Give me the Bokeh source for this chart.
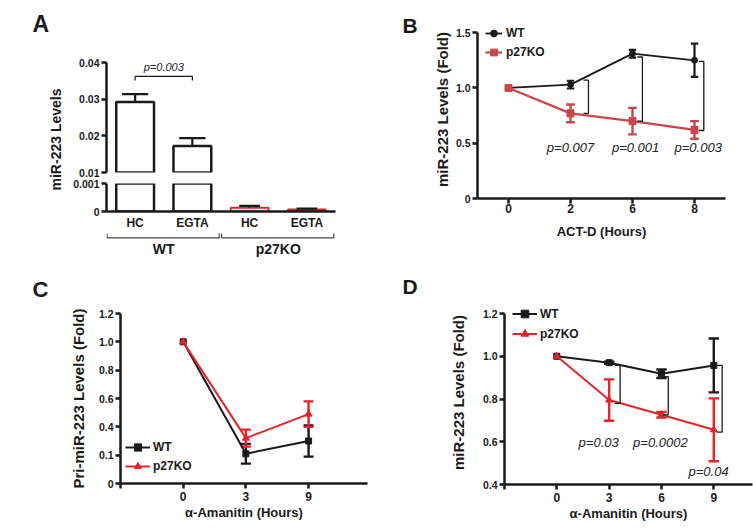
import numpy as np
from bokeh.plotting import figure
from bokeh.layouts import column, row
from bokeh.models import Range1d, FixedTicker, Legend, LegendItem
from bokeh.embed import file_html
from bokeh.resources import INLINE
from bokeh.core.properties import value

# ---------------- data ----------------
# Panel A
a_categories = ["HC", "EGTA", "HC", "EGTA"]
a_groups = ["WT", "WT", "p27KO", "p27KO"]
a_levels = [0.0292, 0.0172, 0.00013, 0.00007]
a_errors = [0.0022, 0.0022, 0.00007, 0.00003]
a_p_text = "p=0.003"
a_upper_ticks = [0.01, 0.02, 0.03, 0.04]
a_upper_tick_labels = ["0.01", "0.02", "0.03", "0.04"]
a_lower_ticks = [0, 0.001]
a_lower_tick_labels = ["0", "0.001"]

# Panel B
b_hours = ["0", "2", "6", "8"]
b_wt = [1.0, 1.03, 1.31, 1.25]
b_wt_err = [0.0, 0.035, 0.035, 0.15]
b_ko = [1.0, 0.77, 0.70, 0.62]
b_ko_err = [0.0, 0.08, 0.12, 0.08]
b_p_values = ["p=0.007", "p=0.001", "p=0.003"]
b_bracket_top = [1.07, 1.28, 1.24]
b_bracket_bottom = [0.77, 0.70, 0.615]
b_y_ticks = [0, 0.5, 1.0, 1.5]
b_y_tick_labels = ["0", "0.5", "1.0", "1.5"]

# Panel C
c_hours = ["0", "3", "9"]
c_wt = [1.0, 0.21, 0.30]
c_wt_err = [0.0, 0.07, 0.11]
c_ko = [1.0, 0.32, 0.49]
c_ko_err = [0.0, 0.06, 0.09]
c_y_ticks = [0, 0.2, 0.4, 0.6, 0.8, 1.0, 1.2]
c_y_tick_labels = ["0", "0.1", "0.4", "0.6", "0.8", "1.0", "1.2"]

# Panel D
d_hours = ["0", "3", "6", "9"]
d_wt = [1.0, 0.97, 0.918, 0.957]
d_wt_err = [0.0, 0.005, 0.02, 0.126]
d_ko = [1.0, 0.795, 0.726, 0.656]
d_ko_err = [0.0, 0.097, 0.013, 0.147]
d_p_values = ["p=0.03", "p=0.0002", "p=0.04"]
d_bracket_top = [0.957, 0.905, 0.957]
d_bracket_bottom = [0.78, 0.726, 0.645]
d_y_ticks = [0.4, 0.6, 0.8, 1.0, 1.2]
d_y_tick_labels = ["0.4", "0.6", "0.8", "1.0", "1.2"]

# ---------------- style ----------------
FONT = "Liberation Sans"
INK = "#1a1a1a"
RED_B = "#c9464b"
RED = "#e2252c"
ROW_H = 265


def make_fig(width, height, x_range, y_range, mbl, mbr, mbt, mbb, xloc="below", yloc="left"):
    p = figure(width=width, height=height, x_range=x_range, y_range=y_range,
               output_backend="svg", toolbar_location=None,
               x_axis_location=xloc, y_axis_location=yloc,
               min_border_left=mbl, min_border_right=mbr,
               min_border_top=mbt, min_border_bottom=mbb)
    p.outline_line_color = None
    p.grid.visible = False
    p.background_fill_color = "white"
    p.border_fill_color = "white"
    return p


def side_fig(width):
    # a plain text strip; its data space is pixels measured from its top-left corner (y negated)
    return make_fig(width, ROW_H, Range1d(0, width), Range1d(-ROW_H, 0), 0, 0, 0, 0, xloc=None, yloc=None)


def side_text(p, x, y_from_top, text, size, angle=0.0, align="left", baseline="middle"):
    p.text(x=[x], y=[-y_from_top], text=[text], text_font=value(FONT), text_font_style="bold",
           text_font_size=size, text_color=INK, angle=angle, text_align=align,
           text_baseline=baseline)


def style_axis(ax, tick_size="10.5px", label_size="13px", tick_out=5, label_standoff=2, axis_standoff=3):
    ax.axis_line_width = 2.5
    ax.axis_line_color = INK
    ax.major_tick_line_width = 2.5
    ax.major_tick_line_color = INK
    ax.major_tick_out = tick_out
    ax.major_tick_in = 0
    ax.minor_tick_line_color = None
    ax.major_label_text_font = FONT
    ax.major_label_text_font_style = "bold"
    ax.major_label_text_font_size = tick_size
    ax.major_label_text_color = INK
    ax.major_label_standoff = label_standoff
    ax.axis_label_text_font = FONT
    ax.axis_label_text_font_style = "bold"
    ax.axis_label_text_font_size = label_size
    ax.axis_label_text_color = INK
    ax.axis_label_standoff = axis_standoff


def set_ticks(ax, ticks, labels):
    ax.ticker = FixedTicker(ticks=list(ticks))
    ax.major_label_overrides = {t: l for t, l in zip(ticks, labels)}


def error_bars(p, xs, ys, errs, color, cap, width):
    x = np.asarray(xs, float)
    y = np.asarray(ys, float)
    e = np.asarray(errs, float)
    m = e > 0
    x, y, e = x[m], y[m], e[m]
    p.segment(x, y - e, x, y + e, line_color=color, line_width=width)
    p.segment(x - cap, y + e, x + cap, y + e, line_color=color, line_width=width)
    p.segment(x - cap, y - e, x + cap, y - e, line_color=color, line_width=width)


def brackets(p, xs, tops, bottoms, stub):
    mx = [[x - stub, x, x, x - stub] for x in xs]
    my = [[t, t, b, b] for t, b in zip(tops, bottoms)]
    p.multi_line(mx, my, line_color=INK, line_width=1.3)


def p_texts(p, xs, ys, texts, size="13px"):
    p.text(x=list(xs), y=list(ys), text=list(texts), text_font=value(FONT),
           text_font_style="italic", text_font_size=size, text_color="#222222",
           text_align="center", text_baseline="middle")


def make_legend(p, items, loc, gw, gh, standoff):
    lg = Legend(items=items, location=loc, orientation="vertical")
    lg.glyph_width = gw
    lg.glyph_height = gh
    lg.label_height = gh
    lg.spacing = 1
    lg.padding = 0
    lg.margin = 0
    lg.label_standoff = standoff
    lg.background_fill_alpha = 0
    lg.border_line_color = None
    lg.label_text_font = FONT
    lg.label_text_font_style = "bold"
    lg.label_text_font_size = "12px"
    lg.label_text_color = INK
    p.add_layout(lg)


# ---------------- Panel A ----------------
a_pos = np.arange(len(a_categories), dtype=float)
xr_a = Range1d(-0.5, 3.5)
a_line_colors = [INK if g == "WT" else RED for g in a_groups]
a_line_widths = [2.5 if g == "WT" else 2.0 for g in a_groups]
a_caps = [0.23 if g == "WT" else 0.18 for g in a_groups]


def draw_a(p, lowest):
    keep = [i for i, v in enumerate(a_levels) if v + a_errors[i] > lowest]
    xs = a_pos[keep]
    lv = np.asarray(a_levels)[keep]
    tp = lv + np.asarray(a_errors)[keep]
    cp = np.asarray(a_caps)[keep]
    p.vbar(x=xs, top=lv, bottom=0, width=0.66, fill_color="white",
           line_color=[a_line_colors[i] for i in keep],
           line_width=[a_line_widths[i] for i in keep])
    p.segment(xs, lv, xs, tp, line_color=INK, line_width=2.2)
    p.segment(xs - cp, tp, xs + cp, tp, line_color=INK, line_width=2.2)


A_W = 312
a_top = make_fig(A_W, 177, xr_a, Range1d(0.01, 0.04273), 38, 45, 52, 5, xloc=None)
style_axis(a_top.yaxis[0])
set_ticks(a_top.yaxis[0], a_upper_ticks, a_upper_tick_labels)
a_top.yaxis[0].bounds = (a_upper_ticks[0], a_upper_ticks[-1])
draw_a(a_top, a_upper_ticks[0])
a_top.line(x=[a_pos[0], a_pos[0], a_pos[1], a_pos[1]], y=[0.0351, 0.0362, 0.0362, 0.0351],
           line_color=INK, line_width=1.2)
p_texts(a_top, [(a_pos[0] + a_pos[1]) / 2], [0.0387], [a_p_text], size="11px")

a_low = make_fig(A_W, 55, xr_a, Range1d(0, 0.001), 38, 45, 6, 19)
style_axis(a_low.yaxis[0])
set_ticks(a_low.yaxis[0], a_lower_ticks, a_lower_tick_labels)
style_axis(a_low.xaxis[0], tick_size="12px", tick_out=0, label_standoff=4)
a_low.xaxis[0].ticker = FixedTicker(ticks=list(a_pos))
a_low.xaxis[0].major_label_overrides = {float(x): c for x, c in zip(a_pos, a_categories)}
draw_a(a_low, 0)

a_br = make_fig(A_W, 33, xr_a, Range1d(0, 1), 38, 45, 0, 0, xloc=None, yloc=None)
for g in list(dict.fromkeys(a_groups)):
    gp = [x for x, gg in zip(a_pos, a_groups) if gg == g]
    x0, x1 = min(gp) - 0.49, max(gp) + 0.47
    a_br.line(x=[x0, x0, x1, x1], y=[0.97, 0.84, 0.84, 0.97], line_color="#444444", line_width=1.2)
    a_br.text(x=[(min(gp) + max(gp)) / 2], y=[0.5], text=[g], text_font=value(FONT),
              text_font_style="bold", text_font_size="14px", text_color=INK,
              text_align="center", text_baseline="middle")

a_side = side_fig(68)
side_text(a_side, 32, 23.5, "A", "23px")
side_text(a_side, 55, 139, "miR-223 Levels", "14px", angle=np.pi / 2, align="center")

panel_a = column(a_top, a_low, a_br, spacing=0)

# ---------------- Panel B ----------------
b_pos = np.arange(len(b_hours), dtype=float)
fig_b = make_fig(323, ROW_H, Range1d(-0.5, 3.5), Range1d(0, 1.61), 47, 28, 20, 67)
style_axis(fig_b.yaxis[0], label_size="15px", axis_standoff=2)
set_ticks(fig_b.yaxis[0], b_y_ticks, b_y_tick_labels)
fig_b.yaxis[0].bounds = (b_y_ticks[0], b_y_ticks[-1])
fig_b.yaxis[0].axis_label = "miR-223 Levels (Fold)"
style_axis(fig_b.xaxis[0], tick_size="12px", label_standoff=0, axis_standoff=8)
set_ticks(fig_b.xaxis[0], list(b_pos), b_hours)
fig_b.xaxis[0].axis_label = "ACT-D (Hours)"

error_bars(fig_b, b_pos, b_wt, b_wt_err, INK, 0.06, 2.2)
error_bars(fig_b, b_pos, b_ko, b_ko_err, RED_B, 0.07, 2.4)
bl_wt = fig_b.line(b_pos, b_wt, line_color=INK, line_width=1.8)
bs_wt = fig_b.scatter(b_pos, b_wt, marker="circle", size=6, color=INK)
bl_ko = fig_b.line(b_pos, b_ko, line_color=RED_B, line_width=2.2)
bs_ko = fig_b.scatter(b_pos, b_ko, marker="square", size=7, color=RED_B)
b_bracket_dx = [0.29, 0.16, 0.15]
brackets(fig_b, b_pos[1:] + np.asarray(b_bracket_dx), b_bracket_top, b_bracket_bottom, 0.08)
p_texts(fig_b, b_pos[1:] + np.asarray([0.0, 0.05, 0.06]), [0.46] * 3, b_p_values)
make_legend(fig_b, [LegendItem(label="WT", renderers=[bl_wt, bs_wt]),
                    LegendItem(label="p27KO", renderers=[bl_ko, bs_ko])],
            (8, 137), 17, 18, 4)

b_side = side_fig(50)
side_text(b_side, 22, 24.5, "B", "21px")

# ---------------- Panel C ----------------
c_pos = np.arange(len(c_hours), dtype=float)
fig_c = make_fig(320, ROW_H, Range1d(-1, 2.94), Range1d(0, 1.2), 60, 13, 48, 47)
style_axis(fig_c.yaxis[0], label_size="15px", axis_standoff=9)
set_ticks(fig_c.yaxis[0], c_y_ticks, c_y_tick_labels)
fig_c.yaxis[0].axis_label = "Pri-miR-223 Levels (Fold)"
style_axis(fig_c.xaxis[0], tick_size="12px", label_standoff=3, axis_standoff=1)
set_ticks(fig_c.xaxis[0], [-1.0] + list(c_pos), [""] + c_hours)
fig_c.xaxis[0].axis_label = "α-Amanitin (Hours)"

error_bars(fig_c, c_pos, c_wt, c_wt_err, INK, 0.08, 2.4)
error_bars(fig_c, c_pos, c_ko, c_ko_err, RED, 0.08, 2.4)
cl_wt = fig_c.line(c_pos, c_wt, line_color=INK, line_width=2)
cs_wt = fig_c.scatter(c_pos, c_wt, marker="square", size=6, color=INK)
cl_ko = fig_c.line(c_pos, c_ko, line_color=RED, line_width=2)
cs_ko = fig_c.scatter(c_pos, c_ko, marker="triangle", size=7, color=RED)
make_legend(fig_c, [LegendItem(label="WT", renderers=[cl_wt, cs_wt]),
                    LegendItem(label="p27KO", renderers=[cl_ko, cs_ko])],
            (5, 8), 25, 18, 3)

c_side = side_fig(60)
side_text(c_side, 32, 23.5, "C", "22px")

# ---------------- Panel D ----------------
d_pos = np.arange(len(d_hours), dtype=float)
fig_d = make_fig(313, ROW_H, Range1d(-1, 3.74), Range1d(0.4, 1.261), 64, 1, 35, 46)
style_axis(fig_d.yaxis[0], label_size="15px", axis_standoff=13)
set_ticks(fig_d.yaxis[0], d_y_ticks, d_y_tick_labels)
fig_d.yaxis[0].bounds = (d_y_ticks[0], d_y_ticks[-1])
fig_d.yaxis[0].axis_label = "miR-223 Levels (Fold)"
style_axis(fig_d.xaxis[0], tick_size="12px", label_standoff=3, axis_standoff=1)
set_ticks(fig_d.xaxis[0], [-1.0] + list(d_pos), [""] + d_hours)
fig_d.xaxis[0].axis_label = "α-Amanitin (Hours)"

error_bars(fig_d, d_pos, d_wt, d_wt_err, INK, 0.1, 2.4)
error_bars(fig_d, d_pos, d_ko, d_ko_err, RED, 0.1, 2.4)
dl_wt = fig_d.line(d_pos, d_wt, line_color=INK, line_width=2)
ds_wt = fig_d.scatter(d_pos, d_wt, marker="square", size=6, color=INK)
dl_ko = fig_d.line(d_pos, d_ko, line_color=RED, line_width=2)
ds_ko = fig_d.scatter(d_pos, d_ko, marker="triangle", size=7, color=RED)
d_bracket_dx = [0.21, 0.13, 0.16]
brackets(fig_d, d_pos[1:] + np.asarray(d_bracket_dx), d_bracket_top, d_bracket_bottom, 0.1)
p_texts(fig_d, d_pos[1:] + np.asarray([-0.2, -0.02, -0.1]), [0.595, 0.595, 0.46], d_p_values)
make_legend(fig_d, [LegendItem(label="WT", renderers=[dl_wt, ds_wt]),
                    LegendItem(label="p27KO", renderers=[dl_ko, ds_ko])],
            (8, 141), 25, 19, 3)

d_side = side_fig(60)
side_text(d_side, 22, 20.5, "D", "21px")

# each child is wrapped in its own column so that the row does not align plot borders
top_row = row(column(a_side), panel_a, column(b_side), column(fig_b), spacing=0)
bottom_row = row(column(c_side), column(fig_c), column(d_side), column(fig_d), spacing=0)
layout = column(top_row, bottom_row, spacing=0)

with open("out.html", "w") as f:
    f.write(file_html(layout, INLINE))
